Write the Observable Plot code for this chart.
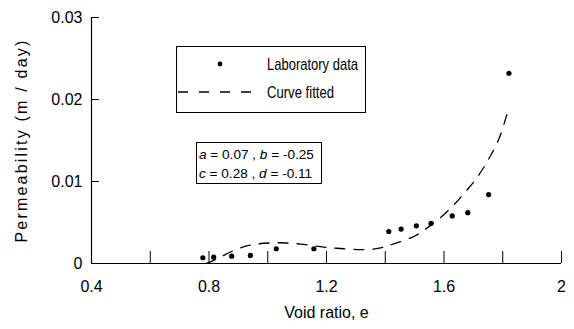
<!DOCTYPE html>
<html>
<head>
<meta charset="utf-8">
<script src="https://cdn.jsdelivr.net/npm/d3@7"></script>
<script src="https://cdn.jsdelivr.net/npm/@observablehq/plot@0.6"></script>
<style>
  html, body { margin: 0; padding: 0; background: white; }
  #chart { position: relative; width: 574px; height: 329px; }
  g[aria-label="y-axis label"] text { letter-spacing: 2.2px; }
</style>
</head>
<body>
<div id="chart"></div>
<script>
// Axis ticks
const xTicks = [0.4, 0.6, 0.8, 1.0, 1.2, 1.4, 1.6, 1.8, 2.0];
const xTickLabels = [0.4, 0.8, 1.2, 1.6, 2];
const yTicks = [0, 0.01, 0.02, 0.03];

// Laboratory data (void ratio e, permeability m/day)
const labE = [0.779, 0.816, 0.877, 0.941, 1.029, 1.157, 1.412, 1.454, 1.506, 1.556, 1.628, 1.681, 1.752, 1.821];
const labK = [0.0007, 0.00077, 0.00089, 0.00098, 0.0018, 0.0018, 0.0039, 0.0042, 0.0046, 0.0049, 0.0058, 0.0062, 0.0084, 0.0232];

// Fitted curve
const fitE = [0.79, 0.805, 0.84, 0.873, 0.935, 1.004, 1.066, 1.129, 1.191, 1.259, 1.327, 1.384, 1.429, 1.503, 1.56, 1.616, 1.667, 1.713, 1.753, 1.787, 1.815];
const fitK = [0.0, 0.0002, 0.0008, 0.0014, 0.0022, 0.0025, 0.0025, 0.0023, 0.002, 0.0018, 0.0017, 0.0019, 0.0024, 0.0034, 0.0048, 0.0065, 0.0085, 0.0105, 0.0128, 0.0152, 0.0183];

// Legend / annotation texts
const legendLab = "Laboratory data";
const legendFit = "Curve fitted";
const coefLine1 = [["a", " = 0.07 , "], ["b", " = -0.25"]];
const coefLine2 = [["c", " = 0.28 , "], ["d", " = -0.11"]];

const lab = labE.map((e, i) => ({e, k: labK[i]}));
const fit = fitE.map((e, i) => ({e, k: fitK[i]}));

const FONT = "'Liberation Sans', Arial, Helvetica, sans-serif";

const chart = Plot.plot({
  width: 574,
  height: 329,
  marginLeft: 91,
  marginRight: 13,
  marginTop: 17,
  marginBottom: 66,
  style: {fontFamily: FONT, fontSize: "16px", color: "black", background: "white"},
  x: {domain: [0.4, 2]},
  y: {domain: [0, 0.03]},
  marks: [
    // inward tick marks
    Plot.axisX(xTicks, {tickSize: 12, dy: -12, text: null, label: null, stroke: "black"}),
    Plot.axisY(yTicks, {tickSize: 8, dx: 8, text: null, label: null, stroke: "black"}),
    // labels
    Plot.axisX(xTickLabels, {tickSize: 0, tickPadding: 17, tickFormat: d => String(d),
      label: "Void ratio, e", labelAnchor: "center", labelArrow: "none", labelOffset: 54, fontSize: 16}),
    Plot.axisY(yTicks, {tickSize: 0, tickPadding: 9, tickFormat: d => String(d),
      label: "Permeability (m / day)", labelAnchor: "center", labelArrow: "none", labelOffset: 76, fontSize: 16}),
    Plot.ruleX([0.4], {stroke: "black", strokeWidth: 1.2}),
    Plot.ruleY([0], {stroke: "black", strokeWidth: 1.2}),
    Plot.line(fit, {x: "e", y: "k", stroke: "black", strokeWidth: 1.3, strokeDasharray: "10,9", curve: "catmull-rom"}),
    Plot.dot(lab, {x: "e", y: "k", r: 2.6, fill: "black", stroke: null})
  ]
});

document.getElementById("chart").appendChild(chart);

// Legend and coefficient box drawn inside the plot area
const svg = d3.select(chart);
const g = svg.append("g").attr("font-family", FONT).attr("fill", "black").attr("text-anchor", "start");

// Legend box
g.append("rect").attr("x", 176.5).attr("y", 46.5).attr("width", 189).attr("height", 66)
  .attr("fill", "white").attr("stroke", "black").attr("stroke-width", 1);
g.append("circle").attr("cx", 220).attr("cy", 64).attr("r", 2.4).attr("fill", "black");
g.append("text").attr("x", 267).attr("y", 64).attr("dy", "0.35em").attr("font-size", 17)
  .attr("textLength", 91).attr("lengthAdjust", "spacingAndGlyphs").text(legendLab);
g.append("line").attr("x1", 178).attr("x2", 252).attr("y1", 92).attr("y2", 92)
  .attr("stroke", "black").attr("stroke-width", 1.3).attr("stroke-dasharray", "10,11");
g.append("text").attr("x", 267).attr("y", 92).attr("dy", "0.35em").attr("font-size", 17)
  .attr("textLength", 67).attr("lengthAdjust", "spacingAndGlyphs").text(legendFit);

// Coefficient box
g.append("rect").attr("x", 196.5).attr("y", 142.5).attr("width", 125).attr("height", 41)
  .attr("fill", "white").attr("stroke", "black").attr("stroke-width", 1);
[[coefLine1, 154], [coefLine2, 173]].forEach(([parts, y]) => {
  const t = g.append("text").attr("x", 199).attr("y", y).attr("dy", "0.35em").attr("font-size", 13.6);
  parts.forEach(([v, rest]) => {
    t.append("tspan").attr("font-style", "italic").text(v);
    t.append("tspan").text(rest);
  });
});
</script>
</body>
</html>
